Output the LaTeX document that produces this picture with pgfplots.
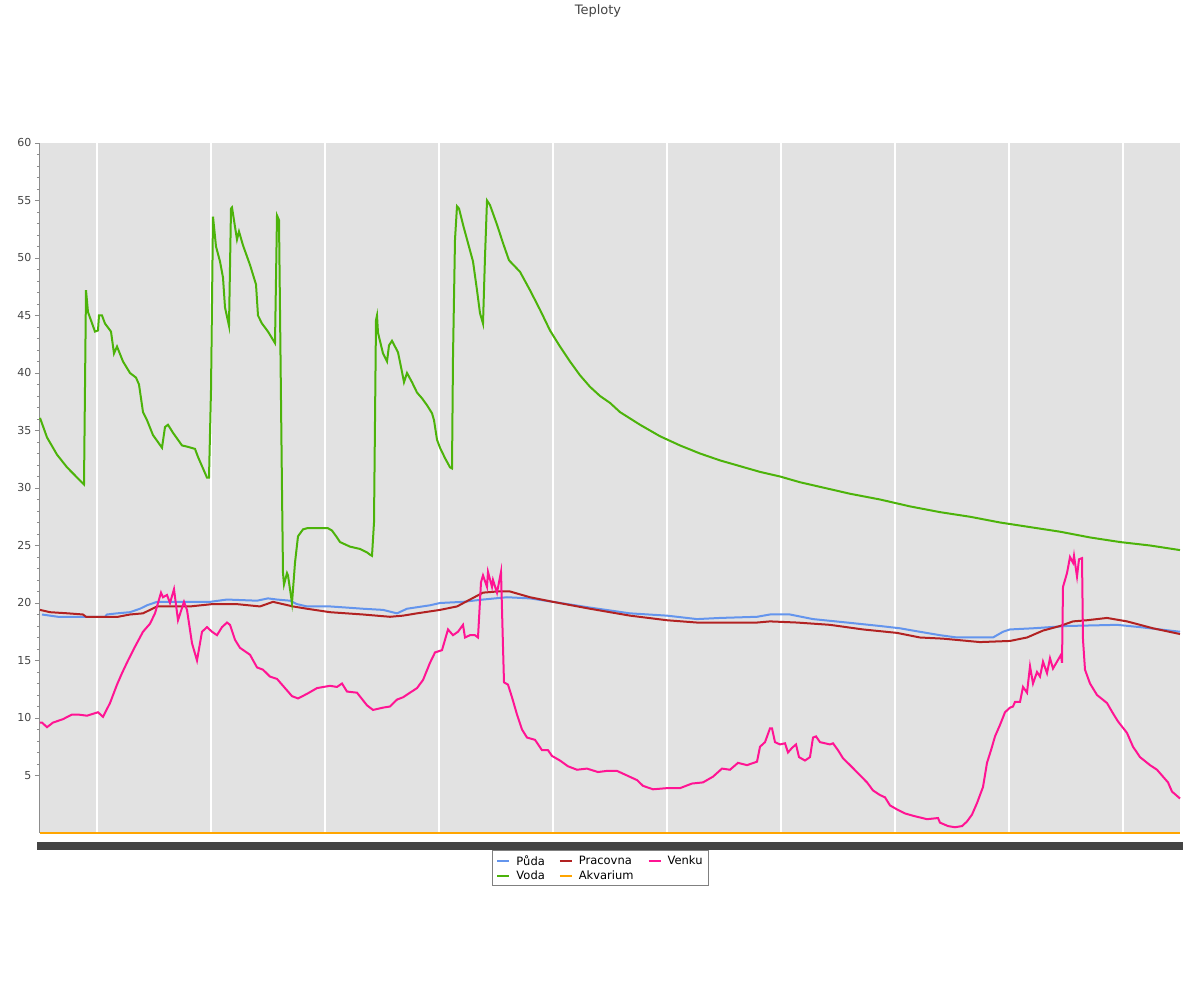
\documentclass[border=0pt]{standalone}
\usepackage{fontspec}
\setmainfont{DejaVu Sans}
\usepackage{pgfplots}
\pgfplotsset{compat=1.18}

\definecolor{puda}{HTML}{6495ED}
\definecolor{pracovna}{HTML}{B22222}
\definecolor{venku}{HTML}{FF1493}
\definecolor{voda}{HTML}{4CB30A}
\definecolor{akvarium}{HTML}{FFA500}
\definecolor{plotbg}{HTML}{E2E2E2}
\definecolor{txt}{HTML}{444444}

\begin{document}
\begin{tikzpicture}
\useasboundingbox (-40pt,-167pt) rectangle (1160pt,833pt);
\begin{axis}[
    at={(0pt,0pt)}, anchor=south west,
    scale only axis,
    width=1140pt, height=690pt,
    xmin=40, xmax=1180,
    ymin=0, ymax=60,
    axis x line*=bottom, axis y line*=left,
    axis line style={-, draw=gray!90, line width=1pt},
    axis background/.style={fill=plotbg},
    xtick={97,211,325,439,553,667,781,895,1009,1123},
    xticklabels={},
    xtick style={draw=none},
    xmajorgrids,
    x grid style={white, line width=1.5pt},
    ytick={5,10,...,60},
    minor y tick num=4,
    tick align=outside,
    major tick length=5pt, minor tick length=3pt,
    ytick style={draw=gray!90, line width=0.8pt},
    yticklabel style={font=\fontsize{11}{13}\selectfont, text=txt},
    /pgf/number format/assume math mode=true,
    legend columns=3,
    legend cell align=left,
    legend style={at={(0.4917,-0.0246)}, anchor=north,
        draw=gray, line width=0.6pt, font=\fontsize{11.5}{15}\selectfont,
        inner xsep=4pt, inner ysep=3pt,
        /tikz/every odd column/.append style={column sep=4pt},
        /tikz/every even column/.append style={column sep=12pt}},
    legend image code/.code={\draw[#1, line width=2pt] (0pt,0pt) -- (12pt,0pt);},
    clip=false,
]
\addplot[puda, line width=2pt] coordinates {
(42,19.0) (58,18.8) (85,18.8) (105,18.8) (107,19.0) (117,19.1) (130,19.2) (140,19.5)
(147,19.8) (157,20.1) (180,20.1) (210,20.1) (227,20.3) (257,20.2) (268,20.4) (277,20.3)
(290,20.2) (297,19.9) (307,19.7) (330,19.7) (347,19.6) (363,19.5) (383,19.4) (397,19.1)
(407,19.5) (430,19.8) (440,20.0) (463,20.1) (483,20.3) (507,20.5) (530,20.4) (553,20.1)
(590,19.6) (630,19.1) (667,18.9) (697,18.6) (720,18.7) (757,18.8) (770,19.0) (790,19.0)
(813,18.6) (847,18.3) (880,18.0) (900,17.8) (913,17.6) (940,17.2) (957,17.0) (993,17.0)
(1003,17.5) (1010,17.7) (1033,17.8) (1067,18.0) (1117,18.1) (1140,17.9) (1180,17.5)
};
\addlegendentry{Půda}
\addplot[pracovna, line width=2pt] coordinates {
(40,19.4) (50,19.2) (68,19.1) (83,19.0) (86,18.8) (118,18.8) (130,19.0) (143,19.1)
(157,19.7) (167,19.7) (190,19.7) (212,19.9) (237,19.9) (260,19.7) (273,20.1) (283,19.9)
(293,19.7) (307,19.5) (330,19.2) (363,19.0) (390,18.8) (403,18.9) (417,19.1) (440,19.4)
(457,19.7) (470,20.3) (483,20.9) (497,21.0) (510,21.0) (530,20.5) (553,20.1) (590,19.5)
(630,18.9) (667,18.5) (697,18.3) (733,18.3) (757,18.3) (770,18.4) (797,18.3) (830,18.1)
(863,17.7) (897,17.4) (920,17.0) (943,16.9) (980,16.6) (1010,16.7) (1027,17.0) (1043,17.6)
(1060,18.0) (1073,18.4) (1087,18.5) (1107,18.7) (1127,18.4) (1153,17.8) (1180,17.3)
};
\addlegendentry{Pracovna}
\addplot[venku, line width=2pt] coordinates {
(40,9.6) (42,9.6) (47,9.2) (53,9.6) (63,9.9) (72,10.3) (78,10.3) (87,10.2) (98,10.5)
(103,10.1) (110,11.3) (117,12.9) (122,13.9) (128,15.0) (135,16.2) (143,17.5) (150,18.2)
(155,19.1) (158,20.0) (161,20.9) (163,20.5) (167,20.7) (170,20.0) (174,21.2) (178,18.5)
(184,20.1) (187,19.4) (192,16.5) (197,15.0) (202,17.5) (207,17.9) (212,17.5) (217,17.2)
(222,17.9) (227,18.3) (230,18.1) (235,16.8) (240,16.1) (250,15.5) (257,14.4) (263,14.2)
(270,13.6) (277,13.4) (283,12.8) (292,11.9) (298,11.7) (307,12.1) (317,12.6) (330,12.8)
(337,12.7) (342,13.0) (347,12.3) (357,12.2) (367,11.1) (373,10.7) (383,10.9) (390,11.0)
(397,11.6) (403,11.8) (410,12.2) (417,12.6) (423,13.3) (430,14.8) (435,15.7) (442,15.9)
(448,17.7) (453,17.2) (458,17.5) (463,18.1) (465,17.0) (470,17.2) (475,17.2) (478,17.0)
(481,21.8) (483,22.4) (487,21.4) (488,22.7) (492,21.4) (493,22.0) (497,20.9) (501,22.7)
(503,16.2) (504,13.1) (508,12.9) (512,11.8) (517,10.3) (522,9.0) (527,8.3) (535,8.1)
(542,7.2) (548,7.2) (552,6.7) (560,6.3) (568,5.8) (577,5.5) (587,5.6) (598,5.3) (607,5.4)
(617,5.4) (627,5.0) (637,4.6) (643,4.1) (653,3.8) (667,3.9) (680,3.9) (692,4.3) (703,4.4)
(713,4.9) (722,5.6) (730,5.5) (738,6.1) (747,5.9) (757,6.2) (760,7.5) (765,7.9) (770,9.1)
(772,9.1) (775,7.9) (780,7.7) (785,7.8) (788,7.0) (792,7.4) (796,7.7) (799,6.6) (805,6.3)
(810,6.6) (813,8.3) (816,8.4) (820,7.9) (825,7.8) (830,7.7) (833,7.8) (838,7.2) (843,6.5)
(850,5.9) (858,5.2) (867,4.4) (873,3.7) (880,3.3) (885,3.1) (890,2.4) (898,2.0) (905,1.7)
(913,1.5) (927,1.2) (938,1.3) (940,0.9) (948,0.6) (955,0.5) (962,0.6) (967,1.0) (972,1.6)
(977,2.6) (983,4.0) (987,6.1) (991,7.2) (995,8.4) (1000,9.4) (1005,10.5) (1010,10.9)
(1013,11.0) (1015,11.4) (1020,11.4) (1023,12.7) (1027,12.2) (1030,14.5) (1033,13.0)
(1037,14.0) (1040,13.6) (1043,14.9) (1047,13.9) (1050,15.2) (1053,14.3) (1057,14.9)
(1061,15.5) (1062,14.8) (1063,21.4) (1067,22.6) (1070,24.0) (1073,23.5) (1074,24.1)
(1077,22.3) (1079,23.8) (1082,23.9) (1083,16.8) (1085,14.2) (1090,13.0) (1097,12.0)
(1107,11.3) (1113,10.4) (1118,9.7) (1127,8.7) (1133,7.5) (1140,6.6) (1150,5.9) (1157,5.5)
(1163,4.9) (1168,4.4) (1172,3.6) (1180,3.0)
};
\addlegendentry{Venku}
\addplot[voda, line width=2pt] coordinates {
(40,36.1) (47,34.4) (57,32.9) (67,31.8) (84,30.3) (86,47.2) (88,45.3) (95,43.6) (98,43.7)
(99,45.0) (102,45.0) (105,44.3) (111,43.6) (114,41.7) (117,42.3) (123,41.0) (130,40.0)
(136,39.6) (139,39.0) (143,36.6) (147,35.9) (153,34.6) (162,33.5) (165,35.3) (168,35.5)
(173,34.8) (182,33.7) (187,33.6) (195,33.4) (198,32.7) (202,31.9) (207,30.9) (209,30.9)
(211,38.5) (213,53.6) (216,51.0) (220,49.7) (223,48.3) (225,45.7) (229,44.1) (231,54.3)
(232,54.4) (237,51.6) (239,52.3) (243,51.1) (250,49.4) (256,47.7) (258,45.0) (262,44.3)
(268,43.6) (275,42.6) (277,53.7) (279,53.3) (282,29.8) (283,22.6) (284,21.6) (287,22.6)
(288,22.4) (292,20.0) (295,23.5) (298,25.8) (303,26.4) (307,26.5) (328,26.5) (332,26.3)
(337,25.7) (340,25.3) (350,24.9) (360,24.7) (367,24.4) (370,24.2) (372,24.1) (374,27.0)
(376,44.6) (377,45.0) (378,43.5) (383,41.7) (387,41.0) (389,42.4) (392,42.8) (395,42.3)
(398,41.8) (402,40.1) (404,39.2) (407,40.0) (412,39.2) (417,38.3) (422,37.8) (427,37.2)
(432,36.5) (434,35.9) (437,34.2) (440,33.5) (445,32.6) (450,31.8) (452,31.7) (453,41.4)
(455,51.6) (457,54.5) (459,54.3) (463,52.9) (468,51.3) (473,49.7) (477,47.2) (480,45.2)
(483,44.3) (485,50.1) (487,55.0) (490,54.6) (497,52.9) (503,51.3) (509,49.8) (520,48.8)
(530,47.2) (540,45.5) (550,43.7) (560,42.3) (570,41.0) (580,39.8) (590,38.8) (600,38.0)
(610,37.4) (620,36.6) (640,35.5) (660,34.5) (680,33.7) (700,33.0) (720,32.4) (740,31.9)
(760,31.4) (780,31.0) (800,30.5) (820,30.1) (850,29.5) (880,29.0) (910,28.4) (940,27.9)
(970,27.5) (1000,27.0) (1030,26.6) (1060,26.2) (1090,25.7) (1120,25.3) (1150,25.0) (1180,24.6)
};
\addlegendentry{Voda}
\addplot[akvarium, line width=2pt] coordinates {(40,0) (1180,0)};
\addlegendentry{Akvarium}
\end{axis}
% overlapping date labels of the x axis, drawn as the dark band they form
\fill[txt] (-3pt,-17pt) rectangle (1143pt,-9pt);
\node[text=txt, font=\fontsize{13}{15}\selectfont] at (558pt,822pt) {Teploty};
\end{tikzpicture}
\end{document}
